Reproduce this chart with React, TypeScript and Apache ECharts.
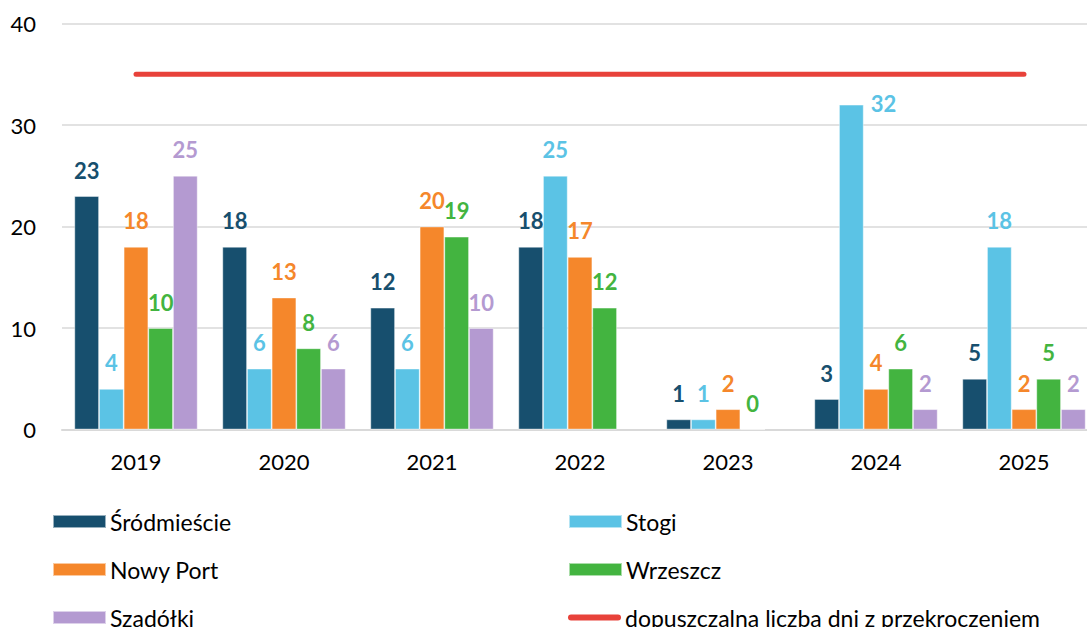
import React, { useEffect, useRef } from "react";
import * as echarts from "echarts";

const categories = ["2019", "2020", "2021", "2022", "2023", "2024", "2025"];
const srodmiescie = [23, 18, 12, 18, 1, 3, 5];
const stogi = [4, 6, 6, 25, 1, 32, 18];
const nowyPort = [18, 13, 20, 17, 2, 4, 2];
const wrzeszcz = [10, 8, 19, 12, 0, 6, 5];
const szadolki: (number | null)[] = [25, 6, 10, null, null, 2, 2];
const limit = [35, 35, 35, 35, 35, 35, 35];
const yTicks = [0, 10, 20, 30, 40];

const names = {
  s: "Śródmieście",
  st: "Stogi",
  np: "Nowy Port",
  w: "Wrzeszcz",
  sz: "Szadółki",
  lim: "dopuszczalna liczba dni z przekroczeniem",
};

const FONT = "Lato";
const LINE_ICON = "path://M3,0 L50,0 A3,3 0 0 1 50,6 L3,6 A3,3 0 0 1 3,0 Z";

function barSeries(name: string, color: string, data: any[]) {
  return {
    type: "bar",
    name,
    data,
    barGap: "0%",
    barCategoryGap: "16.7%",
    itemStyle: { color, borderColor: "rgba(255,255,255,0.55)", borderWidth: 0.8 },
    label: {
      show: true,
      position: "top",
      distance: 15,
      color,
      fontFamily: FONT,
      fontWeight: "bold",
      fontSize: 22,
    },
  };
}

function legendItem(name: string, left: number, top: number, icon: string) {
  return {
    orient: "horizontal",
    left,
    top,
    padding: 0,
    itemWidth: 53,
    itemHeight: 13,
    itemGap: 0,
    selectedMode: false,
    textStyle: { fontFamily: FONT, fontSize: 23, color: "#000", padding: [0, 0, 0, -1] },
    data: [{ name, icon }],
  };
}

export default function App() {
  const ref = useRef<HTMLDivElement>(null);
  useEffect(() => {
    if (!ref.current) return;
    const chart = echarts.init(ref.current, null, { renderer: "svg" });
    const stogiData = stogi.map((v) =>
      v >= 30
        ? {
            value: v,
            label: {
              position: ["100%", 0],
              align: "left",
              verticalAlign: "middle",
              offset: [7, -1],
            },
          }
        : v
    );
    const rowTop = [510, 558, 606];
    chart.setOption({
      animation: false,
      backgroundColor: "#ffffff",
      grid: {
        left: 62,
        top: 23.5,
        width: 1036,
        height: 406,
        containLabel: false,
        outerBoundsMode: "none",
      },
      xAxis: {
        type: "category",
        data: categories,
        axisTick: { show: false },
        axisLine: { lineStyle: { color: "#d9d9d9", width: 2 } },
        axisLabel: { color: "#000", fontFamily: FONT, fontSize: 22, margin: 21 },
      },
      yAxis: {
        type: "value",
        min: yTicks[0],
        max: yTicks[yTicks.length - 1],
        interval: 10,
        axisLine: { show: false },
        axisTick: { show: false },
        splitLine: { lineStyle: { color: "#d9d9d9", width: 1.5 } },
        axisLabel: { color: "#000", fontFamily: FONT, fontSize: 22, margin: 26 },
      },
      legend: [
        legendItem(names.s, 52, rowTop[0], "rect"),
        legendItem(names.np, 52, rowTop[1], "rect"),
        legendItem(names.sz, 52, rowTop[2], "rect"),
        legendItem(names.st, 568, rowTop[0], "rect"),
        legendItem(names.w, 568, rowTop[1], "rect"),
        legendItem(names.lim, 568, rowTop[2], LINE_ICON),
      ],
      series: [
        barSeries(names.s, "#174F6E", srodmiescie),
        barSeries(names.st, "#5BC3E5", stogiData),
        barSeries(names.np, "#F5872B", nowyPort),
        barSeries(names.w, "#43B440", wrzeszcz),
        barSeries(names.sz, "#B49AD1", szadolki),
        {
          type: "line",
          name: names.lim,
          data: limit,
          symbol: "none",
          itemStyle: { color: "#E8423A" },
          lineStyle: { color: "#E8423A", width: 5, cap: "round" },
          z: 5,
        },
      ],
    });
    return () => chart.dispose();
  }, []);
  return (
    <div
      ref={ref}
      style={{ position: "absolute", left: 0, top: 0, width: 1087, height: 627 }}
    />
  );
}
